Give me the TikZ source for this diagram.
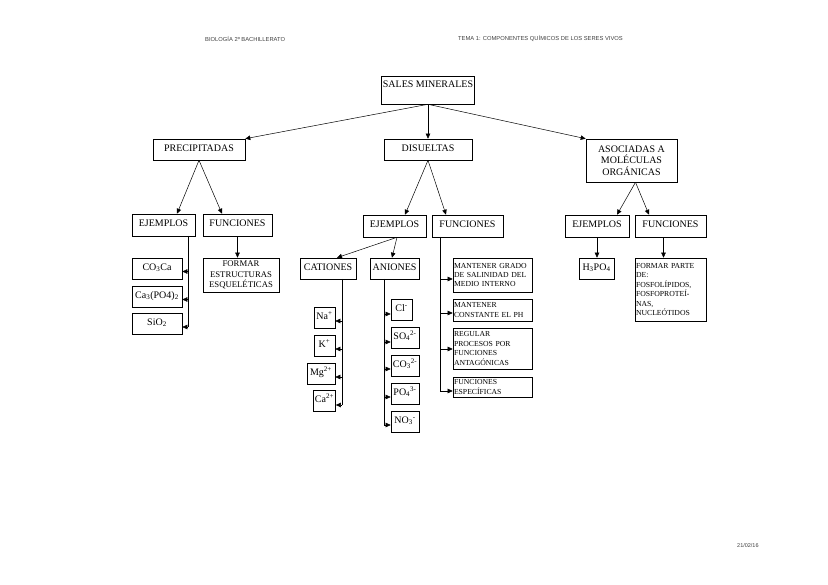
\documentclass[tikz,border=0pt]{standalone}
\usepackage{fontspec}
\setmainfont{Liberation Serif}
\newfontfamily\hdrfont{Liberation Sans}
\usetikzlibrary{arrows.meta,calc}
\begin{document}
\begin{tikzpicture}[x=1pt,y=-1pt,
  box/.style={draw, line width=0.6pt, inner sep=1.5pt, font=\fontsize{10}{11.5}\selectfont, align=center},
  lab/.style={box, text height=7pt, text depth=3.5pt},
  small/.style={box, font=\fontsize{7.7}{9.4}\selectfont, align=left, inner xsep=1pt, text width=#1},
  arr/.style={-{Triangle[length=5pt,width=4.5pt]}, line width=0.5pt},
  ln/.style={line width=0.5pt},
  hdr/.style={anchor=west, inner sep=0pt, text=black!75, font=\hdrfont\fontsize{5.8}{7}\selectfont}]
\useasboundingbox (0,0) rectangle (828,585);

% headers
\node[hdr] (hA) at (205,39) {BIOLOGÍA 2º BACHILLERATO};
\node[hdr] (hB) at (458,39) {TEMA 1: COMPONENTES QUÍMICOS DE LOS SERES VIVOS};
\node[hdr, font=\hdrfont\fontsize{5.5}{6}\selectfont] (hC) at (737,546) {21/02/16};

% top levels
\node[box, minimum width=90pt, minimum height=28pt, text height=7.5pt, text depth=12.5pt] (sales) at (428,90) {SALES MINERALES};
\node[lab, minimum width=92pt, minimum height=21pt] (prec) at (199,149.5) {PRECIPITADAS};
\node[lab, minimum width=88pt, minimum height=21pt] (dis) at (428,149.5) {DISUELTAS};
\node[box, minimum width=91pt, minimum height=43pt] (asoc) at (631.5,160.5) {ASOCIADAS A\\MOLÉCULAS\\ORGÁNICAS};

% left branch
\node[lab, minimum width=63pt, minimum height=22pt] (ej1) at (163.5,225) {EJEMPLOS};
\node[lab, minimum width=69pt, minimum height=22pt] (fun1) at (237.5,225) {FUNCIONES};
\node[lab, minimum width=50pt, minimum height=21pt] (co3) at (157,268.5) {CO\textsubscript{3}Ca};
\node[lab, minimum width=50pt, minimum height=21pt] (ca3) at (157,296.5) {Ca\textsubscript{3}(PO4)\textsubscript{2}};
\node[lab, minimum width=50pt, minimum height=21pt] (sio) at (157,323.5) {SiO\textsubscript{2}};
\node[box, minimum width=76pt, minimum height=34pt, font=\fontsize{8.7}{10.5}\selectfont] (form1) at (241,275) {FORMAR\\ESTRUCTURAS\\ESQUELÉTICAS};

% middle branch
\node[lab, minimum width=63pt, minimum height=22pt] (ej2) at (394.5,226) {EJEMPLOS};
\node[lab, minimum width=71pt, minimum height=22pt] (fun2) at (467.5,226) {FUNCIONES};
\node[lab, minimum width=56pt, minimum height=21pt] (cat) at (328,268.5) {CATIONES};
\node[lab, minimum width=49pt, minimum height=21pt] (ani) at (394.5,268.5) {ANIONES};

\node[lab, minimum width=21pt, minimum height=21pt] (na) at (324.5,317.5) {Na\textsuperscript{+}};
\node[lab, minimum width=21pt, minimum height=21pt] (k) at (324.5,345.5) {K\textsuperscript{+}};
\node[lab, minimum width=28pt, minimum height=21pt] (mg) at (321,373.5) {Mg\textsuperscript{2+}};
\node[lab, minimum width=21pt, minimum height=21pt] (ca) at (324.5,400.5) {Ca\textsuperscript{2+}};

\node[lab, minimum width=21pt, minimum height=21pt] (cl) at (401.5,309.5) {Cl\textsuperscript{-}};
\node[lab, minimum width=28pt, minimum height=21pt] (so) at (405,337.5) {SO\textsubscript{4}\textsuperscript{2-}};
\node[lab, minimum width=28pt, minimum height=21pt] (co) at (405,365.5) {CO\textsubscript{3}\textsuperscript{2-}};
\node[lab, minimum width=28pt, minimum height=21pt] (po) at (405,393.5) {PO\textsubscript{4}\textsuperscript{3-}};
\node[lab, minimum width=28pt, minimum height=21pt] (no) at (405,421.5) {NO\textsubscript{3}\textsuperscript{-}};

\node[small=77pt, minimum height=34pt] (f1) at (492.5,275) {MANTENER GRADO\\DE SALINIDAD DEL\\MEDIO INTERNO};
\node[small=77pt, minimum height=22pt] (f2) at (492.5,310) {MANTENER\\CONSTANTE EL PH};
\node[small=77pt, minimum height=41pt] (f3) at (492.5,348.5) {REGULAR\\PROCESOS POR\\FUNCIONES\\ANTAGÓNICAS};
\node[small=77pt, minimum height=20pt] (f4) at (492.5,387) {FUNCIONES\\ESPECÍFICAS};

% right branch
\node[lab, minimum width=64pt, minimum height=22pt] (ej3) at (597,226) {EJEMPLOS};
\node[lab, minimum width=71pt, minimum height=22pt] (fun3) at (670.5,226) {FUNCIONES};
\node[lab, minimum width=35pt, minimum height=21pt] (hpo) at (596.5,268.5) {H\textsubscript{3}PO\textsubscript{4}};
\node[small=69pt, minimum height=63pt] (form3) at (670.5,289.5) {FORMAR PARTE\\DE:\\FOSFOLÍPIDOS,\\FOSFOPROTEÍ-\\NAS,\\NUCLEÓTIDOS};

% connectors, top
\draw[arr] (sales.south) -- (prec.north east);
\draw[arr] (sales.south) -- (dis.north);
\draw[arr] (sales.south) -- (asoc.north west);

\draw[arr] (prec.south) -- ($(ej1.north)+(13.5,0)$);
\draw[arr] (prec.south) -- ($(fun1.north)+(-15.5,0)$);
\draw[arr] (dis.south) -- ($(ej2.north)+(10.5,0)$);
\draw[arr] (dis.south) -- ($(fun2.north)+(-21.5,0)$);
\draw[arr] ($(asoc.south)+(4,0)$) -- ($(ej3.north)+(20,0)$);
\draw[arr] ($(asoc.south)+(4,0)$) -- ($(fun3.north)+(-21.5,0)$);

\draw[arr] ($(ej2.south)+(2.5,0)$) -- ($(cat.north)+(9,0)$);
\draw[arr] ($(ej2.south)+(2.5,0)$) -- ($(ani.north)+(-2.5,0)$);

\draw[arr] (fun1.south) -- (fun1.south |- form1.north);
\draw[arr] (ej3.south) -- (ej3.south |- hpo.north);
\draw[arr] ($(fun3.south)+(-7,0)$) -- ($(form3.north)+(-7,0)$);

% left trunk
\coordinate (t1) at (188,236);
\coordinate (p1) at ($(co3.east)+(0,3)$);
\coordinate (p2) at ($(ca3.east)+(0,3)$);
\coordinate (p3) at ($(sio.east)+(0,3.5)$);
\draw[ln] (t1) -- (t1 |- p3);
\draw[arr] (t1 |- p1) -- (p1);
\draw[arr] (t1 |- p2) -- (p2);
\draw[arr] (t1 |- p3) -- (p3);

% cation trunk
\coordinate (t2) at (342,279);
\coordinate (q1) at ($(na.east)+(0,3.5)$);
\coordinate (q2) at ($(k.east)+(0,3.5)$);
\coordinate (q3) at ($(mg.east)+(0,3.5)$);
\coordinate (q4) at ($(ca.east)+(0,4.5)$);
\draw[ln] (t2) -- (t2 |- q4);
\draw[arr] (t2 |- q1) -- (q1);
\draw[arr] (t2 |- q2) -- (q2);
\draw[arr] (t2 |- q3) -- (q3);
\draw[arr] (t2 |- q4) -- (q4);

% anion trunk
\coordinate (t3) at (384,279);
\coordinate (r1) at ($(cl.west)+(0,4.5)$);
\coordinate (r2) at ($(so.west)+(0,4.5)$);
\coordinate (r3) at ($(co.west)+(0,3.5)$);
\coordinate (r4) at ($(po.west)+(0,3.5)$);
\coordinate (r5) at ($(no.west)+(0,3.5)$);
\draw[ln] (t3) -- (t3 |- r5);
\draw[arr] (t3 |- r1) -- (r1);
\draw[arr] (t3 |- r2) -- (r2);
\draw[arr] (t3 |- r3) -- (r3);
\draw[arr] (t3 |- r4) -- (r4);
\draw[arr] (t3 |- r5) -- (r5);

% functions trunk
\coordinate (t4) at (440,237);
\coordinate (s1) at ($(f1.west)+(0,4)$);
\coordinate (s2) at ($(f2.west)+(0,3)$);
\coordinate (s3) at ($(f3.west)+(0,0.5)$);
\coordinate (s4) at ($(f4.west)+(0,4)$);
\draw[ln] (t4) -- (t4 |- s4);
\draw[arr] (t4 |- s1) -- (s1);
\draw[arr] (t4 |- s2) -- (s2);
\draw[arr] (t4 |- s3) -- (s3);
\draw[arr] (t4 |- s4) -- (s4);
\end{tikzpicture}
\end{document}
